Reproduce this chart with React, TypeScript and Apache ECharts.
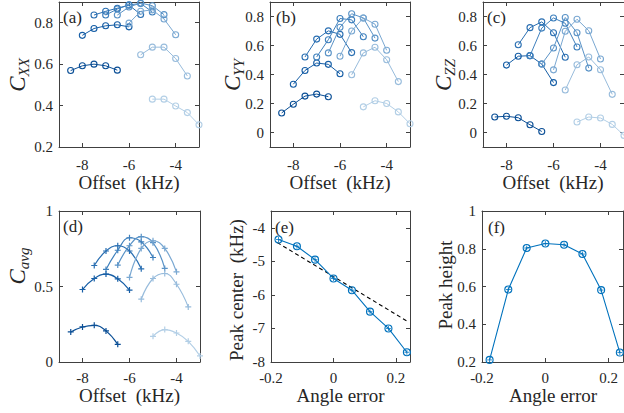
import React, { useEffect, useRef } from 'react';
import * as echarts from 'echarts';

const FONT = 'Liberation Serif, serif';
const TXT = '#262626';
const AX = '#404040';

const colors = ['#0b4f96', '#165ea6', '#2a6fb2', '#3f80bd', '#5a93c7', '#7aa8d2', '#98bcdc', '#b3cfe6'];

const offsets = [
  [-8.5, -8, -7.5, -7, -6.5],
  [-8, -7.5, -7, -6.5, -6],
  [-7.5, -7, -6.5, -6, -5.5],
  [-7, -6.5, -6, -5.5, -5],
  [-6.5, -6, -5.5, -5, -4.5],
  [-6, -5.5, -5, -4.5, -4],
  [-5.5, -5, -4.5, -4, -3.5],
  [-5, -4.5, -4, -3.5, -3],
];

const cXX = [
  [0.569, 0.592, 0.6, 0.592, 0.571],
  [0.739, 0.772, 0.785, 0.79, 0.78],
  [0.837, 0.855, 0.87, 0.885, 0.84],
  [0.837, 0.866, 0.886, 0.893, 0.852],
  [0.837, 0.876, 0.895, 0.882, 0.839],
  [0.798, 0.855, 0.862, 0.818, 0.742],
  [0.645, 0.682, 0.682, 0.627, 0.543],
  [0.431, 0.431, 0.398, 0.366, 0.307],
];

const cYY = [
  [0.135, 0.195, 0.251, 0.265, 0.247],
  [0.333, 0.428, 0.479, 0.47, 0.405],
  [0.521, 0.644, 0.701, 0.677, 0.551],
  [0.521, 0.64, 0.786, 0.777, 0.66],
  [0.549, 0.726, 0.819, 0.79, 0.651],
  [0.526, 0.7, 0.79, 0.747, 0.567],
  [0.398, 0.549, 0.588, 0.502, 0.351],
  [0.177, 0.219, 0.2, 0.142, 0.06],
];

const cZZ = [
  [0.107, 0.112, 0.102, 0.053, 0.007],
  [0.465, 0.526, 0.53, 0.472, 0.344],
  [0.605, 0.723, 0.763, 0.688, 0.519],
  [0.53, 0.72, 0.79, 0.753, 0.59],
  [0.472, 0.583, 0.793, 0.688, 0.444],
  [0.432, 0.698, 0.781, 0.702, 0.507],
  [0.293, 0.467, 0.521, 0.433, 0.263],
  [0.072, 0.107, 0.1, 0.056, -0.02],
];

const cAvg = [
  [0.199, 0.232, 0.243, 0.206, 0.117],
  [0.48, 0.553, 0.582, 0.551, 0.476],
  [0.639, 0.735, 0.77, 0.735, 0.617],
  [0.613, 0.74, 0.823, 0.796, 0.692],
  [0.642, 0.77, 0.83, 0.79, 0.62],
  [0.56, 0.752, 0.803, 0.752, 0.597],
  [0.416, 0.553, 0.586, 0.515, 0.365],
  [0.17, 0.215, 0.192, 0.137, 0.04],
];

const angleErr = [-0.176, -0.117, -0.059, 0, 0.059, 0.117, 0.176, 0.235];
const peakCenter = [-4.35, -4.55, -4.95, -5.51, -5.86, -6.5, -7.0, -7.71];
const peakHeight = [0.211, 0.584, 0.804, 0.828, 0.821, 0.772, 0.581, 0.25];
const fitX = [-0.18, 0.237];
const fitY = [-4.44, -6.79];

const offsetTicks = [-8, -6, -4];
const angleTicks = [-0.2, 0, 0.2];
const aTicks = [0.2, 0.4, 0.6, 0.8];
const bcTicks = [0, 0.2, 0.4, 0.6, 0.8];
const dTicks = [0, 0.5, 1];
const eTicks = [-8, -7, -6, -5, -4];
const fTicks = [0.2, 0.4, 0.6, 0.8, 1];

const grids = [
  { left: 59, top: 2, width: 140, height: 145 },
  { left: 270, top: 2, width: 140, height: 145 },
  { left: 483, top: 2, width: 141, height: 145 },
  { left: 59, top: 211, width: 141, height: 151 },
  { left: 271, top: 211, width: 139, height: 151 },
  { left: 482, top: 211, width: 141, height: 151 },
];

const lineStyleAx = { color: AX, width: 1 };

function axes(dim: 'x' | 'y', gi: number, min: number, max: number, ticks: number[], margin: number) {
  const base = {
    type: 'value',
    gridIndex: gi,
    min,
    max,
    splitLine: { show: false },
    axisLine: { show: true, onZero: false, lineStyle: lineStyleAx },
    axisTick: { show: true, inside: true, length: 4, customValues: ticks, lineStyle: lineStyleAx },
  };
  const primary = {
    ...base,
    position: dim === 'x' ? 'bottom' : 'left',
    axisLabel: {
      show: true,
      customValues: ticks,
      margin,
      fontFamily: FONT,
      fontSize: 15,
      color: TXT,
    },
  };
  const mirror = {
    ...base,
    position: dim === 'x' ? 'top' : 'right',
    axisLabel: { show: false },
  };
  return [primary, mirror];
}

const circleSym = 'path://M1,0A1,1,0,1,1,-1,0A1,1,0,1,1,1,0Z';
const plusSym = 'path://M0,-1L0,1M-1,0L1,0';

function circleSeries(data: number[][], gi: number) {
  return data.map((vals, i) => ({
    type: 'line',
    xAxisIndex: gi * 2,
    yAxisIndex: gi * 2,
    data: vals.map((v, j) => [offsets[i][j], v]),
    symbol: circleSym,
    symbolSize: 6,
    showSymbol: true,
    lineStyle: { color: colors[i], width: 1 },
    itemStyle: { color: 'rgba(0,0,0,0)', borderColor: colors[i], borderWidth: 1.1 },
    z: 2 + i,
  }));
}

function sub(main: string, s: string) {
  return `{c|${main}}{s|${s}}`;
}

const richC = {
  c: { fontFamily: FONT, fontStyle: 'italic', fontSize: 23, lineHeight: 23, verticalAlign: 'top', fill: TXT },
  s: { fontFamily: FONT, fontStyle: 'italic', fontSize: 15, lineHeight: 15, padding: [11, 0, 0, 0], verticalAlign: 'top', fill: TXT },
};

function yTitleRich(x: number, y: number, text: string) {
  return {
    type: 'text',
    x,
    y,
    rotation: Math.PI / 2,
    style: { text, rich: richC, align: 'center', verticalAlign: 'middle', fill: TXT },
  };
}

function plainText(x: number, y: number, text: string, size: number, rot = 0, align = 'center') {
  return {
    type: 'text',
    x,
    y,
    rotation: rot,
    style: { text, fontFamily: FONT, fontSize: size, fill: TXT, align, verticalAlign: 'middle' },
  };
}

const xAxes: any[] = [];
const yAxes: any[] = [];
xAxes.push(...axes('x', 0, -9, -3, offsetTicks, 10));
yAxes.push(...axes('y', 0, 0.2, 0.9, aTicks, 6));
xAxes.push(...axes('x', 1, -9, -3, offsetTicks, 10));
yAxes.push(...axes('y', 1, -0.1, 0.9, bcTicks, 6));
xAxes.push(...axes('x', 2, -9, -3, offsetTicks, 10));
yAxes.push(...axes('y', 2, -0.1, 0.9, bcTicks, 6));
xAxes.push(...axes('x', 3, -9, -3, offsetTicks, 8));
yAxes.push(...axes('y', 3, 0, 1, dTicks, 6));
xAxes.push(...axes('x', 4, -0.2, 0.245, angleTicks, 8));
yAxes.push(...axes('y', 4, -8, -3.5, eTicks, 6));
xAxes.push(...axes('x', 5, -0.2, 0.245, angleTicks, 8));
yAxes.push(...axes('y', 5, 0.2, 1, fTicks, 6));

const series: any[] = [
  ...circleSeries(cXX, 0),
  ...circleSeries(cYY, 1),
  ...circleSeries(cZZ, 2),
  ...cAvg.map((vals, i) => ({
    type: 'line',
    xAxisIndex: 6,
    yAxisIndex: 6,
    data: vals.map((v, j) => [offsets[i][j], v]),
    smooth: 0.45,
    symbol: plusSym,
    symbolSize: 6,
    showSymbol: true,
    lineStyle: { color: colors[i], width: 1.2 },
    itemStyle: { color: colors[i], borderColor: colors[i], borderWidth: 1.2 },
    z: 2 + i,
  })),
  {
    type: 'line',
    xAxisIndex: 8,
    yAxisIndex: 8,
    data: fitX.map((x, j) => [x, fitY[j]]),
    symbol: 'none',
    lineStyle: { color: '#000', width: 1.1, type: [4, 3] },
    z: 1,
  },
  {
    type: 'line',
    xAxisIndex: 8,
    yAxisIndex: 8,
    data: angleErr.map((x, j) => [x, peakCenter[j]]),
    symbol: circleSym,
    symbolSize: 7,
    lineStyle: { color: '#0072BD', width: 1.1 },
    itemStyle: { color: 'rgba(0,0,0,0)', borderColor: '#0072BD', borderWidth: 1.1 },
    z: 3,
  },
  {
    type: 'scatter',
    xAxisIndex: 8,
    yAxisIndex: 8,
    data: angleErr.map((x, j) => [x, peakCenter[j]]),
    symbol: plusSym,
    symbolSize: 5,
    itemStyle: { color: '#0072BD', borderColor: '#0072BD', borderWidth: 1 },
    z: 4,
  },
  {
    type: 'line',
    xAxisIndex: 10,
    yAxisIndex: 10,
    data: angleErr.map((x, j) => [x, peakHeight[j]]),
    symbol: circleSym,
    symbolSize: 7,
    lineStyle: { color: '#0072BD', width: 1.1 },
    itemStyle: { color: 'rgba(0,0,0,0)', borderColor: '#0072BD', borderWidth: 1.1 },
    z: 3,
  },
  {
    type: 'scatter',
    xAxisIndex: 10,
    yAxisIndex: 10,
    data: angleErr.map((x, j) => [x, peakHeight[j]]),
    symbol: plusSym,
    symbolSize: 5,
    itemStyle: { color: '#0072BD', borderColor: '#0072BD', borderWidth: 1 },
    z: 4,
  },
];

const graphics: any[] = [
  yTitleRich(17, 75, sub('C', 'XX')),
  yTitleRich(232, 75, sub('C', 'YY')),
  yTitleRich(443, 75, sub('C', 'ZZ')),
  yTitleRich(17, 266, sub('C', 'avg')),
  plainText(236, 290, 'Peak center  (kHz)', 19, Math.PI / 2),
  plainText(445, 285, 'Peak height', 19, Math.PI / 2),
  plainText(129, 182.5, 'Offset  (kHz)', 19),
  plainText(340, 182.5, 'Offset  (kHz)', 19),
  plainText(553, 182.5, 'Offset  (kHz)', 19),
  plainText(129.5, 395.5, 'Offset  (kHz)', 19),
  plainText(340.5, 395.5, 'Angle error', 19),
  plainText(553, 395.5, 'Angle error', 19),
  plainText(63, 17, '(a)', 17, 0, 'left'),
  plainText(276, 17, '(b)', 17, 0, 'left'),
  plainText(487, 17, '(c)', 17, 0, 'left'),
  plainText(63, 226, '(d)', 17, 0, 'left'),
  plainText(275, 227, '(e)', 17, 0, 'left'),
  plainText(488, 227, '(f)', 17, 0, 'left'),
];

const option: any = {
  animation: false,
  backgroundColor: '#fff',
  grid: grids,
  xAxis: xAxes,
  yAxis: yAxes,
  series,
  graphic: graphics,
};

export default function App() {
  const ref = useRef<HTMLDivElement>(null);
  useEffect(() => {
    document.body.style.margin = '0';
    const chart = echarts.init(ref.current as HTMLDivElement, null, { renderer: 'svg' });
    chart.setOption(option);
    return () => chart.dispose();
  }, []);
  return <div ref={ref} style={{ width: 624, height: 413 }} />;
}
